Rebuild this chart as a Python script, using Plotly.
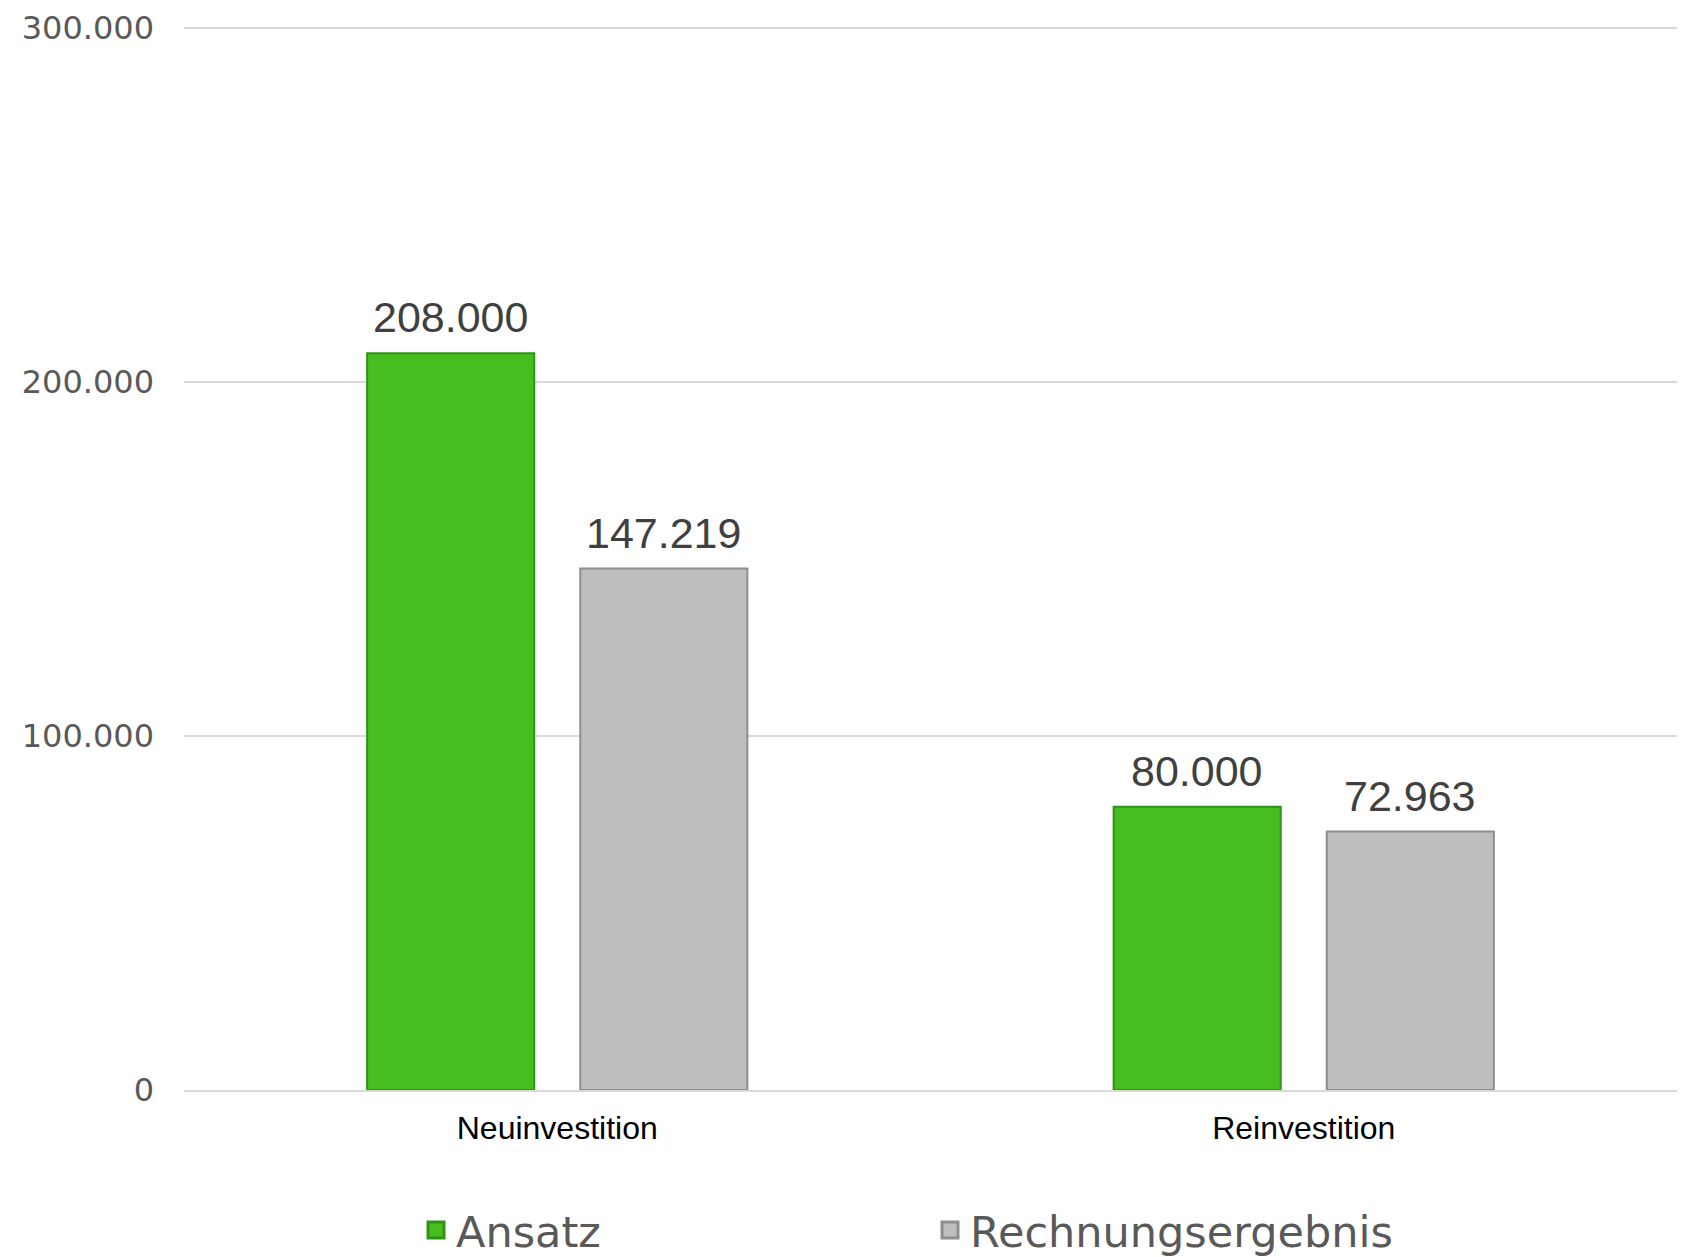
import plotly.graph_objects as go

categories = ["Neuinvestition", "Reinvestition"]
ansatz = [208000, 80000]
rechnungsergebnis = [147219, 72963]
series_names = ["Ansatz", "Rechnungsergebnis"]
y_ticks = [0, 100000, 200000, 300000]

fill_colors = ["#46BE1F", "#BEBEBE"]
edge_colors = ["#2F9414", "#8E8E8E"]

# page has an 8px body margin, so the figure is drawn 8px smaller
W, H = 1686, 1249
ML, MR, MT, MB = 176, 17, 16, 167
BARGAP, BARGROUPGAP = 0.429, 0.216

fig = go.Figure()
series = [ansatz, rechnungsergebnis]
for name, vals, fc, ec in zip(series_names, series, fill_colors, edge_colors):
    fig.add_trace(go.Bar(
        x=categories, y=vals, name=name,
        marker=dict(color=fc, line=dict(color=ec, width=2)),
        showlegend=False, hoverinfo="x+y+name",
    ))
for name, fc, ec in zip(series_names, fill_colors, edge_colors):
    fig.add_trace(go.Scatter(
        x=[None], y=[None], mode="markers", name=name,
        marker=dict(symbol="square", size=16, color=fc, line=dict(color=ec, width=3)),
        showlegend=True,
    ))

# value labels placed above each bar (pixel offsets derived from the group layout)
cat_px = (W - ML - MR) / len(categories)
slot_px = cat_px * (1 - BARGAP) / len(series)
for si, vals in enumerate(series):
    offset = (si - (len(series) - 1) / 2) * slot_px
    for cat, v in zip(categories, vals):
        fig.add_annotation(
            x=cat, y=v, xref="x", yref="y", text=f"{v:,.0f}".replace(",", "."),
            showarrow=False, xshift=offset, yshift=36, yanchor="middle",
            font=dict(family="Liberation Sans, Arial", size=43, color="#404040"),
        )

fig.update_layout(
    width=W, height=H,
    margin=dict(l=ML, r=MR, t=MT, b=MB, autoexpand=False),
    paper_bgcolor="white", plot_bgcolor="white",
    separators=",.",
    barmode="group", bargap=BARGAP, bargroupgap=BARGROUPGAP,
    showlegend=True,
    legend=dict(
        orientation="h", x=0.1554, xanchor="left",
        yref="container", y=1 - 1222 / H, yanchor="middle",
        entrywidth=469, entrywidthmode="pixels",
        font=dict(family="DejaVu Sans, Verdana", size=43, color="#595959"),
        itemsizing="trace",
    ),
    xaxis=dict(
        tickfont=dict(family="Liberation Sans, Arial", size=32, color="#000000"),
        showline=True, linecolor="#D9D9D9", linewidth=2,
        showgrid=False, ticks="", ticklabelstandoff=9, automargin=False,
    ),
    yaxis=dict(
        range=[0, 301000], tickvals=y_ticks, tickformat=",.0f",
        tickfont=dict(family="DejaVu Sans, Verdana", size=32, color="#595959"),
        showgrid=True, gridcolor="#D9D9D9", gridwidth=1.5,
        zeroline=False, showline=False, ticks="", ticklabelstandoff=29,
        automargin=False,
    ),
)

fig.write_html("out.html")
